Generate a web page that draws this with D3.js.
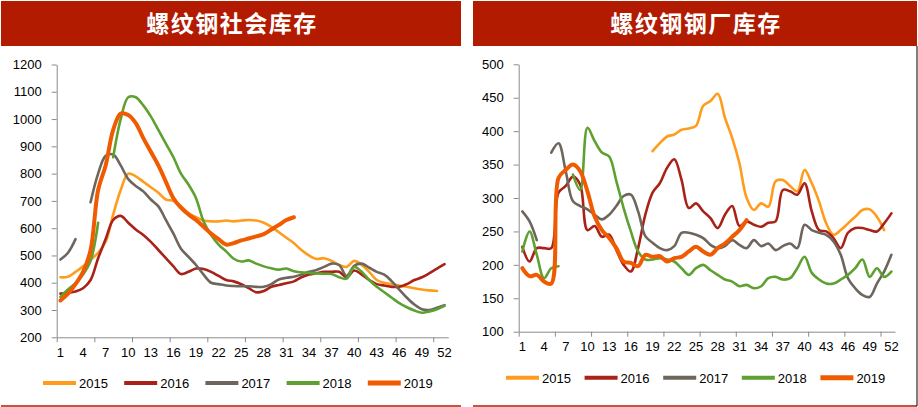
<!DOCTYPE html>
<html><head><meta charset="utf-8">
<script src="https://cdn.jsdelivr.net/npm/d3@7"></script>
<style>
html,body{margin:0;padding:0;background:#fff;}
svg text{font-family:"Liberation Sans",Arial,sans-serif;}
</style></head>
<body>
<svg id="chart" width="918" height="407"></svg>
<script>
const weeks = d3.range(1, 53);
const xLabels = [1,4,7,10,13,16,19,22,25,28,31,34,37,40,43,46,49,52];
const seriesNames = ["2015","2016","2017","2018","2019"];
const colors = ["#FF9C1C","#A82218","#6E665D","#5EA131","#F05A00"];
const N = null;

// 螺纹钢社会库存
const soc2015 = [420,422,440,460,485,510,550,650,740,800,790,770,750,730,705,700,680,655,640,628,625,625,628,625,628,630,628,620,605,585,565,545,520,500,487,490,480,465,458,480,465,440,410,400,395,390,385,380,375,372,370,N];
const soc2016 = [360,363,368,380,410,490,560,630,645,620,595,575,550,520,490,460,432,440,452,450,440,425,410,405,395,380,365,370,385,392,398,405,420,430,435,440,440,440,420,445,430,410,395,390,385,385,395,410,420,435,452,468];
const soc2017 = [485,510,560,N,695,800,865,870,830,780,755,735,705,680,630,580,525,495,465,430,400,395,390,388,387,387,385,385,395,412,418,422,430,440,447,458,470,465,425,462,470,455,440,430,405,375,345,320,303,300,308,318];
const soc2018 = [348,375,398,430,480,620,N,860,1000,1080,1080,1050,1010,960,910,860,800,760,710,625,575,540,515,488,478,482,470,460,453,448,452,442,438,436,434,433,432,420,415,458,440,410,385,365,345,325,310,298,290,295,303,315];
const soc2019 = [335,360,395,440,520,740,830,960,1020,1015,985,930,880,830,770,710,675,650,630,605,580,560,540,545,555,562,570,578,595,612,630,640,N,N,N,N,N,N,N,N,N,N,N,N,N,N,N,N,N,N,N,N];

// 螺纹钢钢厂库存
const mill2015 = [N,N,N,N,N,N,N,N,N,N,N,N,N,N,N,N,N,N,370,382,392,395,402,404,408,438,445,456,420,390,352,300,282,292,287,325,327,318,310,342,322,295,262,245,252,262,272,282,283,272,252,N];
const mill2016 = [227,205,225,225,225,308,318,332,320,252,258,242,245,222,200,190,225,275,308,322,345,358,327,285,292,280,270,255,275,288,258,265,260,257,263,265,312,310,305,322,280,252,250,240,225,248,255,255,252,250,262,277];
const mill2017 = [280,265,237,N,368,382,340,295,288,283,275,268,275,288,303,305,280,243,233,225,222,228,248,248,245,240,230,225,228,237,230,225,237,228,232,222,228,232,225,260,252,248,245,235,215,180,165,155,152,172,190,215];
const mill2018 = [220,250,215,180,195,198,N,335,312,405,385,368,362,325,285,250,220,208,208,210,208,205,195,185,195,200,192,185,178,175,168,170,165,168,180,182,178,180,195,212,188,178,172,172,178,185,195,208,182,195,182,190];
const mill2019 = [195,183,185,175,172,330,342,350,340,310,272,252,240,225,205,203,198,215,212,213,205,210,212,220,227,220,215,225,232,242,252,267,N,N,N,N,N,N,N,N,N,N,N,N,N,N,N,N,N,N,N,N];

const socTicks = [200,300,400,500,600,700,800,900,1000,1100,1200];
const millTicks = [100,150,200,250,300,350,400,450,500];

const svg = d3.select("#chart");
const titleColor = "#B31B00";

function panel(opt) {
  const g = svg.append("g");
  // title bar
  g.append("rect").attr("x", opt.bx).attr("y", 1).attr("width", opt.bw).attr("height", 45).attr("fill", titleColor);
  g.append("text").attr("x", opt.bx + opt.bw/2 + 1).attr("y", 32)
    .attr("text-anchor","middle").attr("fill","#fff")
    .style("font-family",'"Noto Sans CJK SC",sans-serif').style("font-size","23px").style("font-weight","bold")
    .style("letter-spacing","1.5px")
    .text(opt.title);
  // bottom line
  g.append("line").attr("x1", opt.bx).attr("x2", opt.bx + opt.bw).attr("y1", 406).attr("y2", 406)
    .attr("stroke", titleColor).attr("stroke-width", 1.5);

  const xb = d3.scaleBand().domain(weeks).range([opt.x0, opt.x1]).paddingInner(0).paddingOuter(0);
  const xc = w => xb(w) + xb.bandwidth()/2;
  const xl = d3.scaleLinear().domain([0, 52]).range([opt.x0, opt.x1]);
  const y = d3.scaleLinear().domain(opt.ydom).range([opt.y0, opt.y1]);

  // y axis
  const ya = g.append("g").attr("transform", `translate(${opt.x0},0)`)
    .call(d3.axisLeft(y).tickValues(opt.yticks).tickFormat(d3.format("d")).tickSize(5).tickSizeOuter(0).tickPadding(10));
  ya.select(".domain").attr("stroke","#8c8c8c");
  ya.selectAll(".tick line").attr("stroke","#8c8c8c");
  ya.selectAll("text").attr("fill","#000").style("font-size","13px");

  // x axis ticks (between categories every 5)
  const xa = g.append("g").attr("transform", `translate(0,${opt.y0})`)
    .call(d3.axisBottom(xl).tickValues([0,5,10,15,20,25,30,35,40,45,50]).tickSize(5).tickSizeOuter(0).tickFormat(""));
  xa.select(".domain").attr("stroke","#8c8c8c");
  xa.selectAll(".tick line").attr("stroke","#8c8c8c");
  // x labels
  const xlab = g.append("g").attr("transform", `translate(0,${opt.y0})`)
    .call(d3.axisBottom(xb).tickValues(xLabels).tickSize(0).tickPadding(opt.xpad));
  xlab.select(".domain").remove();
  xlab.selectAll("text").attr("fill","#000").style("font-size","13px");

  // lines
  const line = d3.line().defined(d => d.v !== null).x(d => xc(d.w)).y(d => y(d.v))
    .curve(d3.curveCatmullRom.alpha(0.5));
  opt.data.forEach((arr, i) => {
    const pts = arr.map((v, j) => ({w: weeks[j], v}));
    g.append("path").attr("d", line(pts)).attr("fill","none")
      .attr("stroke", colors[i]).attr("stroke-width", i === 4 ? 4 : 2.6)
      .attr("stroke-linejoin","round").attr("stroke-linecap","round");
  });

  // legend
  seriesNames.forEach((n, i) => {
    const lx = opt.lx + i * opt.lstep;
    g.append("line").attr("x1", lx).attr("x2", lx + 33).attr("y1", opt.ly).attr("y2", opt.ly)
      .attr("stroke", colors[i]).attr("stroke-width", i === 4 ? 5 : 4);
    g.append("text").attr("x", lx + 36).attr("y", opt.ly + 5).attr("fill","#000")
      .style("font-size","13px").text(n);
  });
}

panel({title:"螺纹钢社会库存", bx:1, bw:460, x0:56.7, x1:448.3, y0:337.3, y1:64.5,
  ydom:[200,1200], yticks:socTicks, xpad:10, data:[soc2015,soc2016,soc2017,soc2018,soc2019],
  lx:43, lstep:81.2, ly:383});
panel({title:"螺纹钢钢厂库存", bx:473, bw:444, x0:518.7, x1:895, y0:331.7, y1:64.3,
  ydom:[100,500], yticks:millTicks, xpad:10, data:[mill2015,mill2016,mill2017,mill2018,mill2019],
  lx:506, lstep:78.6, ly:377.7});
// right panel border
svg.append("line").attr("x1",917).attr("x2",917).attr("y1",46).attr("y2",406).attr("stroke","#000").attr("stroke-width",1);
</script>
</body></html>
